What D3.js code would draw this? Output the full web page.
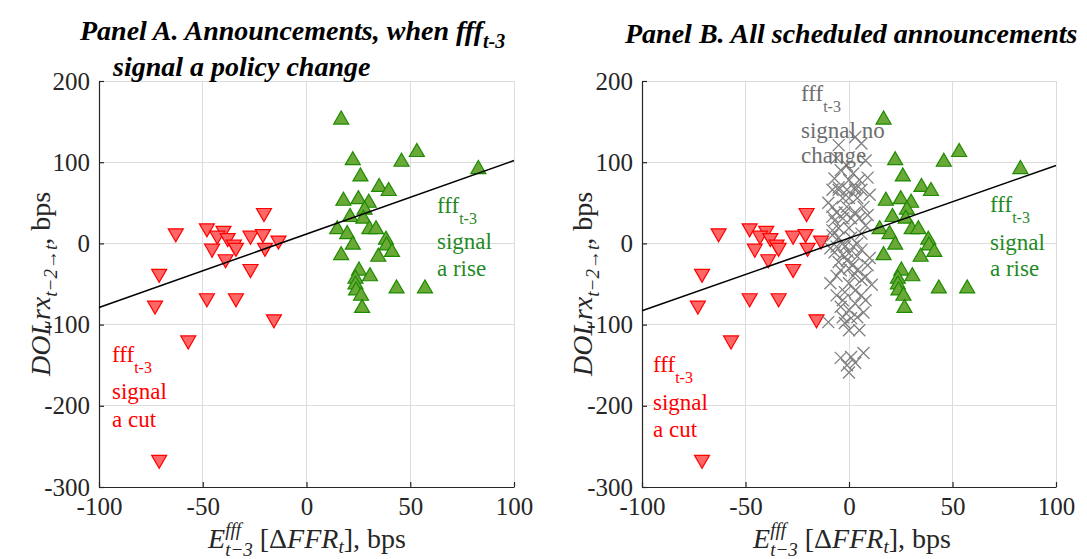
<!DOCTYPE html>
<html>
<head>
<meta charset="utf-8">
<script src="https://cdn.jsdelivr.net/npm/d3@7"></script>
<style>
    body { margin: 0; background: #fff; }
</style>
</head>
<body>
<svg id="chart" width="1087" height="559"></svg>
<script>
// Tick values
var xTicks = [-100, -50, 0, 50, 100];
var yTicks = [-300, -200, -100, 0, 100, 200];

// fff_{t-3} signal a cut (red, down triangles)
var cutX = [-20.5, -63, -48, -40, -43, -38, -35, -34, -45.5, -27, -21, -20, -13.5, -39, -27, -71, -73, -48, -34, -15.7, -57, -71];
var cutY = [35, 10, 16, 13, 7, 4, -4, -8, -9, 7, 9, -8, 1, -22, -34, -40, -79, -70, -70, -96, -122, -269];

// fff_{t-3} signal a rise (green, up triangles)
var riseX = [16.7, 22.3, 45.8, 53.2, 82.8, 26, 35, 39.6, 17.8, 25, 30, 28, 21, 27.4, 14.8, 19.6, 30.3, 33.5, 38.3, 38.6, 22.3, 16.7, 41.2, 34.6, 25.3, 30.6, 23.6, 23.6, 43.4, 57.1, 23.9, 26.3, 26.8];
var riseY = [155, 105, 103, 115, 94, 85, 72, 67, 55, 57, 52.5, 44, 35, 33, 20, 14, 20, 20, 7, 0, 1, -12, -8, -14, -31, -38, -41, -48, -53, -53, -55.5, -62, -77];

// fff_{t-3} signal no change (gray crosses, panel B only)
var noChangeX = [-5, 6, 3, -6, -1, 8, -4, 0, 5, 9, -7, 2, -5, 3, -5, -1, 3, 6, -8, 10, -3, 0, 4, -10, -8, 7, -1, -6, -2, 3, 9, -3, 1, 5, -8, -7, 8, -5, 0, -8, 6, -8, -5, 1, -3, 4, -6, -2, 2, -9, 6, -7, -3, 0, 4, 10, -5, -1, 2, 9, -4, 0, 4, -6, 2, 8, 6, -9, 0, 11, 3, -2, 6, -6, -3, 8, 3, -4, 0, 7, -3, 4, 1, -10, -2, 0, 5, -4, 1, 7, -1, 3, 0];
var noChangeY = [121, 123, 131, 105, 96, 102, 90, 78, 78, 81, 80, 86, 69, 69, 66, 66, 66, 66, 66, 60, 56, 56, 56, 50, 45, 45, 45, 38, 38, 38, 35, 31, 31, 31, 33, 28, 22, 19, 19, 16, 12, 10, 7, 7, 0, 0, -4, -4, -4, -6, -8, -11, -14, -12, -16, -18, -23, -21, -26, -27, -33, -31, -33, -40, -40, -41, -45, -49, -49, -51, -58, -60, -64, -64, -70, -70, -74, -78, -82, -85, -91, -91, -92, -97, -98, -107, -107, -141, -140, -135, -150, -147, -159];

// OLS fit: y at x = -100 and x = 100
var fitA = [-79, 102];
var fitB = [-83, 96];

var serif = "'Liberation Serif'";

var svg = d3.select("#chart");
svg.append("rect").attr("width", 1087).attr("height", 559).attr("fill", "#fff");

var y = d3.scaleLinear().domain([-300, 200]).range([487, 81]);

function downTri() { return "M-7.5,-6.5L7.5,-6.5L0,6.5Z"; }
function upTri() { return "M-7.5,6.5L7.5,6.5L0,-6.5Z"; }
function cross() { return "M-6,-6L6,6M-6,6L6,-6"; }

function drawPanel(p) {
    var x = d3.scaleLinear().domain([-100, 100]).range([p.left, p.right]);
    var g = svg.append("g");

    // grid
    g.append("g").selectAll("line").data(xTicks).enter().append("line")
        .attr("x1", x).attr("x2", x).attr("y1", y(200)).attr("y2", y(-300))
        .attr("stroke", "#dcdcdc").attr("shape-rendering", "crispEdges");
    g.append("g").selectAll("line").data(yTicks).enter().append("line")
        .attr("x1", p.left).attr("x2", p.right).attr("y1", y).attr("y2", y)
        .attr("stroke", "#dcdcdc").attr("shape-rendering", "crispEdges");

    // axes, MATLAB style ticks pointing inwards
    g.append("g").attr("transform", "translate(0," + y(-300) + ")")
        .call(d3.axisBottom(x).tickValues(xTicks).tickSize(-5).tickSizeOuter(0).tickPadding(10).tickFormat(String));
    g.append("g").attr("transform", "translate(" + p.left + ",0)")
        .call(d3.axisLeft(y).tickValues(yTicks).tickSize(-5).tickSizeOuter(0).tickPadding(9).tickFormat(String));
    g.selectAll(".domain, .tick line").attr("stroke", "#262626").attr("stroke-width", 1.2);
    g.selectAll(".tick text").attr("font-size", 25).attr("fill", "#262626").style("font-family", serif);

    // markers
    g.append("g").selectAll("path").data(d3.zip(cutX, cutY)).enter().append("path")
        .attr("d", downTri)
        .attr("transform", function (d) { return "translate(" + x(d[0]) + "," + y(d[1]) + ")"; })
        .attr("fill", "#ff6666").attr("stroke", "#ff0000").attr("stroke-width", 1.2);

    if (p.noChange) {
        g.append("g").selectAll("path").data(d3.zip(noChangeX, noChangeY)).enter().append("path")
            .attr("d", cross)
            .attr("transform", function (d) { return "translate(" + x(d[0]) + "," + y(d[1]) + ")"; })
            .attr("fill", "none").attr("stroke", "#808080").attr("stroke-width", 1.3);
    }

    g.append("g").selectAll("path").data(d3.zip(riseX, riseY)).enter().append("path")
        .attr("d", upTri)
        .attr("transform", function (d) { return "translate(" + x(d[0]) + "," + y(d[1]) + ")"; })
        .attr("fill", "#6aa838").attr("stroke", "#1d8a00").attr("stroke-width", 1.2);

    // fit line
    g.append("line")
        .attr("x1", x(-100)).attr("y1", y(p.fit[0]))
        .attr("x2", x(100)).attr("y2", y(p.fit[1]))
        .attr("stroke", "#000").attr("stroke-width", 1.5);
}

function signalLabel(x0, ys, color, words) {
    var t = svg.append("text").attr("fill", color).attr("font-size", 23).style("font-family", serif);
    t.append("tspan").attr("x", x0).attr("y", ys[0]).text("fff");
    t.append("tspan").attr("dy", 11).attr("font-size", 16).text("t-3");
    words.forEach(function (w, i) {
        t.append("tspan").attr("x", x0).attr("y", ys[i + 1]).text(w);
    });
}

function yLabel(cx, cy) {
    var t = svg.append("text").style("font-family", serif)
        .attr("transform", "translate(" + cx + "," + cy + ") rotate(-90)")
        .attr("text-anchor", "middle").attr("font-size", 28).attr("fill", "#262626");
    t.append("tspan").attr("font-style", "italic").text("DOLrx");
    t.append("tspan").attr("font-style", "italic").attr("font-size", 19).attr("dy", 7).text("t−2→t");
    t.append("tspan").attr("dy", -7).text(", bps");
}

function xLabel(cx, by) {
    var t = svg.append("text").attr("x", cx).attr("y", by).style("font-family", serif)
        .attr("text-anchor", "middle").attr("font-size", 28).attr("fill", "#262626");
    t.append("tspan").attr("font-style", "italic").text("E");
    var sup = t.append("tspan").attr("font-style", "italic").attr("font-size", 19).attr("dy", -12).text("fff");
    var w = sup.node().getComputedTextLength();
    t.append("tspan").attr("font-style", "italic").attr("font-size", 19).attr("dx", -w).attr("dy", 20).text("t−3");
    t.append("tspan").attr("dy", -8).text(" [Δ");
    t.append("tspan").attr("font-style", "italic").text("FFR");
    t.append("tspan").attr("font-style", "italic").attr("font-size", 19).attr("dy", 5).text("t");
    t.append("tspan").attr("dy", -5).text("], bps");
}

drawPanel({ left: 99, right: 514, fit: fitA, noChange: false });
drawPanel({ left: 642, right: 1056, fit: fitB, noChange: true });

signalLabel(437, [213, 249, 276], "#1f8a1f", ["signal", "a rise"]);
signalLabel(112, [362, 399, 427], "#ff0000", ["signal", "a cut"]);
signalLabel(990, [212, 250, 276], "#1f8a1f", ["signal", "a rise"]);
signalLabel(653, [372, 410, 437], "#ff0000", ["signal", "a cut"]);
signalLabel(801, [101, 138, 163], "#6e6e6e", ["signal no", "change"]);

yLabel(50, 284);
yLabel(592, 284);
xLabel(307, 548);
xLabel(852, 548);

// titles
var tA = svg.append("text").style("font-family", serif)
    .attr("font-weight", "bold").attr("font-style", "italic").attr("font-size", 28);
tA.append("tspan").attr("x", 80).attr("y", 40).text("Panel A. Announcements, when fff");
tA.append("tspan").attr("dy", 8).attr("font-size", 20).text("t-3");
tA.append("tspan").attr("x", 113).attr("y", 76).text("signal a policy change");

svg.append("text").style("font-family", serif)
    .attr("font-weight", "bold").attr("font-style", "italic").attr("font-size", 28)
    .attr("x", 625).attr("y", 43).text("Panel B. All scheduled announcements");
</script>
</body>
</html>
